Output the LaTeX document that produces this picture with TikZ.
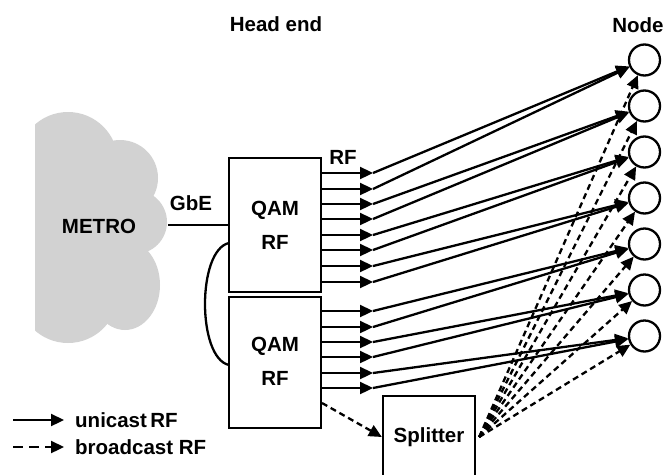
\documentclass[tikz,border=0pt]{standalone}
\usepackage{fontspec}
\setmainfont{Liberation Sans}
\usetikzlibrary{arrows.meta}
\definecolor{cloudgray}{RGB}{210,210,210}
\begin{document}
\begin{tikzpicture}[x=1pt,y=-1pt,
  txt/.style={font=\fontsize{20.5}{24}\selectfont\bfseries,inner sep=0pt},
  ln/.style={line width=2.3pt},
  tip/.style={-{Triangle[length=13pt,width=12pt]}},
  dsh/.style={dash pattern=on 6pt off 4pt},
  ldsh/.style={dash pattern=on 10pt off 6pt},
  box/.style={draw,line width=2.3pt,minimum width=92pt,inner sep=0pt,font=\fontsize{20.5}{24}\selectfont\bfseries},
  nd/.style={draw,circle,line width=2.3pt,minimum size=31pt,inner sep=0pt}]
\useasboundingbox (0,0) rectangle (671,474);
\clip (0,0) rectangle (671,474);
% cloud
\begin{scope}
\clip (35,100) rectangle (200,360);
\fill[cloudgray] (68,162) circle[radius=50pt];
\fill[cloudgray] (120,178) circle[radius=38pt];
\fill[cloudgray] (135,222) circle[radius=32pt];
\fill[cloudgray] (125,285) ellipse[x radius=35pt,y radius=45pt];
\fill[cloudgray] (68,293) circle[radius=50pt];
\fill[cloudgray] (35,150) rectangle (128,300);
\end{scope}
\node[txt] (metro) at (99,226) {METRO};
\node[txt] (gbe) at (191,203) {GbE};
\node[txt] (head) at (276,24) {Head end};
\node[txt] (nodelbl) at (638,25) {Node};
% QAM boxes
\node[box,minimum height=134pt] (q1) at (275,225) {};
\node[box,minimum height=131pt] (q2) at (275,362.5) {};
\node[txt] (q1a) at (275,210) {QAM};
\node[txt] (q1b) at (275,242) {RF};
\node[txt] (q2a) at (275,346) {QAM};
\node[txt] (q2b) at (275,378) {RF};
\node[txt] (rflbl) at (343,157) {RF};
\coordinate (cl) at (168,225);
\draw[ln] (cl) -- (q1.west |- cl);
% arc between boxes
\coordinate (a1) at (229,243);
\coordinate (a2) at (229,365);
\draw[ln] (a1) .. controls (197,250) and (197,358) .. (a2);
% splitter
\node[box,minimum height=82pt] (sp) at (429,437) {Splitter};
% nodes
\foreach \k in {1,...,7} {
  \node[nd] (n\k) at (644.5,{60+46*(\k-1)}) {};
}
% arrow tips
\foreach \y [count=\i] in {173,189,204,219,235,250,266,282,311,327,342,357,373,388} {
  \coordinate (t\i) at (373,\y);
}
\foreach \i in {1,...,8} { \draw[ln,tip] (q1.east |- t\i) -- (t\i); }
\foreach \i in {9,...,14} { \draw[ln,tip] (q2.east |- t\i) -- (t\i); }
\foreach \i in {1,...,14} {
  \pgfmathtruncatemacro\k{(\i+1)/2}
  \draw[ln,tip] (t\i) -- (n\k);
}
% broadcast
\coordinate (d0) at (322,403);
\draw[ln,dsh,tip] (d0) -- (sp.west);
\coordinate (so) at ([xshift=3pt]sp.east);
\foreach \k in {1,...,7} { \draw[ln,dsh,tip] (so) -- (n\k); }
% legend
\coordinate (l1a) at (13,420);
\coordinate (l1b) at (64,420);
\coordinate (l2a) at (13,447);
\coordinate (l2b) at (64,447);
\draw[ln,tip] (l1a) -- (l1b);
\draw[ln,ldsh,tip] (l2a) -- (l2b);
\node[txt,anchor=west] (lg1) at (75,420) {unicast\,RF};
\node[txt,anchor=west] (lg2) at (75,447) {broadcast RF};
\end{tikzpicture}
\end{document}
